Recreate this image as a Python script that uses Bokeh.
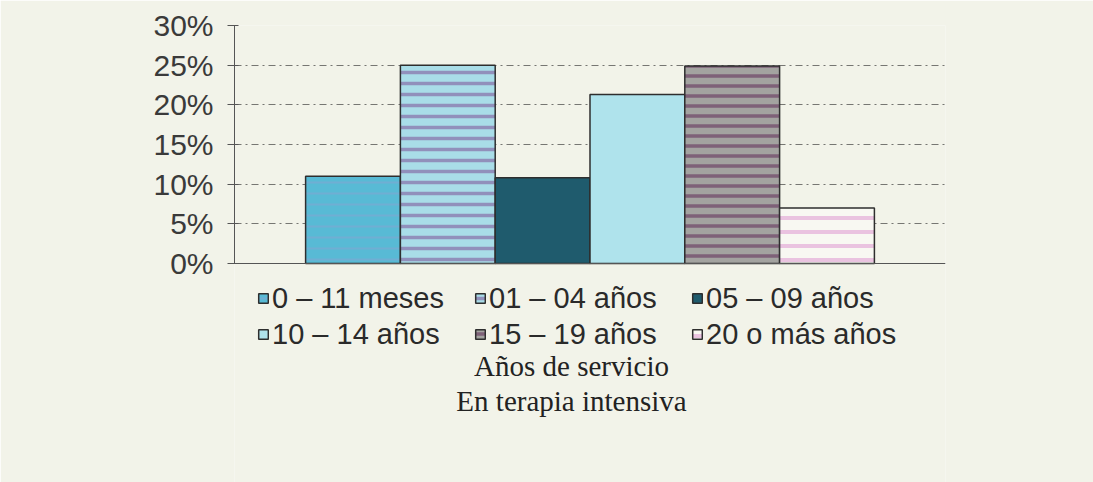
import numpy as np
from bokeh.plotting import figure
from bokeh.models import Range1d, FixedTicker, Legend, LegendItem, Label, Span
from bokeh.embed import file_html
from bokeh.resources import INLINE

# ---- data ----
categories = ["0 – 11 meses", "01 – 04 años", "05 – 09 años",
              "10 – 14 años", "15 – 19 años", "20 o más años"]
percentages = [11.0, 25.0, 10.8, 21.3, 24.9, 7.0]
y_ticks = [0, 5, 10, 15, 20, 25, 30]
y_tick_labels = ["0%", "5%", "10%", "15%", "20%", "25%", "30%"]
caption_lines = ["Años de servicio", "En terapia intensiva"]

# ---- styles ----
fills = ["#58bad5", "#a9dde8", "#1f5b6d", "#afe3ec", "#a3a3a0", "#f8f8f2"]
hatches = ["-", "-", None, None, "-", "-"]
hatch_colors = ["#8fa0d0", "#8b7db0", None, None, "#74506e", "#e6b2da"]
hatch_weights = [2, 3.5, 0, 0, 3.5, 4]
hatch_scales = [11, 11, 10, 10, 10, 14]
hatch_alphas = [0.45, 0.8, 0, 0, 0.8, 0.75]

BG = "#f2f3e9"
PX_PER_UNIT = 238 / 30          # vertical pixels per percentage point
Y_MIN = -219 / PX_PER_UNIT      # frame continues below the 0 % line

p = figure(width=1093, height=482, x_range=Range1d(0, 7.5),
           y_range=Range1d(Y_MIN, 30), x_axis_location=None,
           output_backend="svg", toolbar_location=None,
           min_border_left=234, min_border_right=148, min_border_top=25,
           min_border_bottom=0)
p.background_fill_color = BG
p.border_fill_color = BG
p.outline_line_color = None

# grid
p.xgrid.visible = False
p.ygrid.ticker = FixedTicker(ticks=y_ticks)
p.ygrid.grid_line_color = "#333333"
p.ygrid.grid_line_alpha = 0.65
p.ygrid.grid_line_dash = "7 4 2 4"
p.ygrid.grid_line_width = 1

# y axis (line only between 0 % and 30 %)
p.yaxis.bounds = (0, 30)
p.yaxis.ticker = FixedTicker(ticks=y_ticks)
p.yaxis.major_label_overrides = {t: l for t, l in zip(y_ticks, y_tick_labels)}
p.yaxis.major_label_text_font = "Liberation Sans"
p.yaxis.major_label_text_font_size = "30px"
p.yaxis.major_label_text_color = "#3a3a3a"
p.yaxis.major_label_standoff = 14
p.yaxis.axis_line_color = "#555555"
p.yaxis.major_tick_line_color = "#555555"
p.yaxis.major_tick_out = 7
p.yaxis.major_tick_in = 4
p.yaxis.minor_tick_line_color = None

# x axis line at 0 %
p.add_layout(Span(location=0, dimension="width", line_color="#555555",
                  line_width=1.2))

# bars (one renderer per series so each gets a legend entry)
xs = np.arange(len(categories)) + 1.25
items = []
for i, (cat, val) in enumerate(zip(categories, percentages)):
    kw = dict(fill_color=fills[i], line_color="#2e2e2e", line_width=1.5)
    if hatches[i]:
        kw.update(hatch_pattern=hatches[i], hatch_color=hatch_colors[i],
                  hatch_weight=hatch_weights[i], hatch_scale=hatch_scales[i],
                  hatch_alpha=hatch_alphas[i])
    r = p.vbar(x=[xs[i]], top=[val], bottom=0, width=1.0, **kw)
    items.append(LegendItem(label=cat, renderers=[r]))

legend = Legend(items=items, orientation="horizontal", ncols=3,
                location=(23, 131), padding=0, margin=0, spacing=2,
                glyph_width=12, glyph_height=12, label_standoff=3,
                label_width=200, label_height=34,
                label_text_font="Liberation Sans", label_text_font_size="29px",
                label_text_color="#2a2a2a",
                background_fill_alpha=0, border_line_color=None)
p.add_layout(legend, "center")

# caption under the chart
cap_y = [-102 / PX_PER_UNIT, -137 / PX_PER_UNIT]
for txt, yy in zip(caption_lines, cap_y):
    p.add_layout(Label(x=3.555, y=yy, text=txt, text_align="center",
                       text_baseline="middle", text_font="Liberation Serif",
                       text_font_size="29px", text_color="#222222"))

open("out.html", "w").write(file_html(p, INLINE))
